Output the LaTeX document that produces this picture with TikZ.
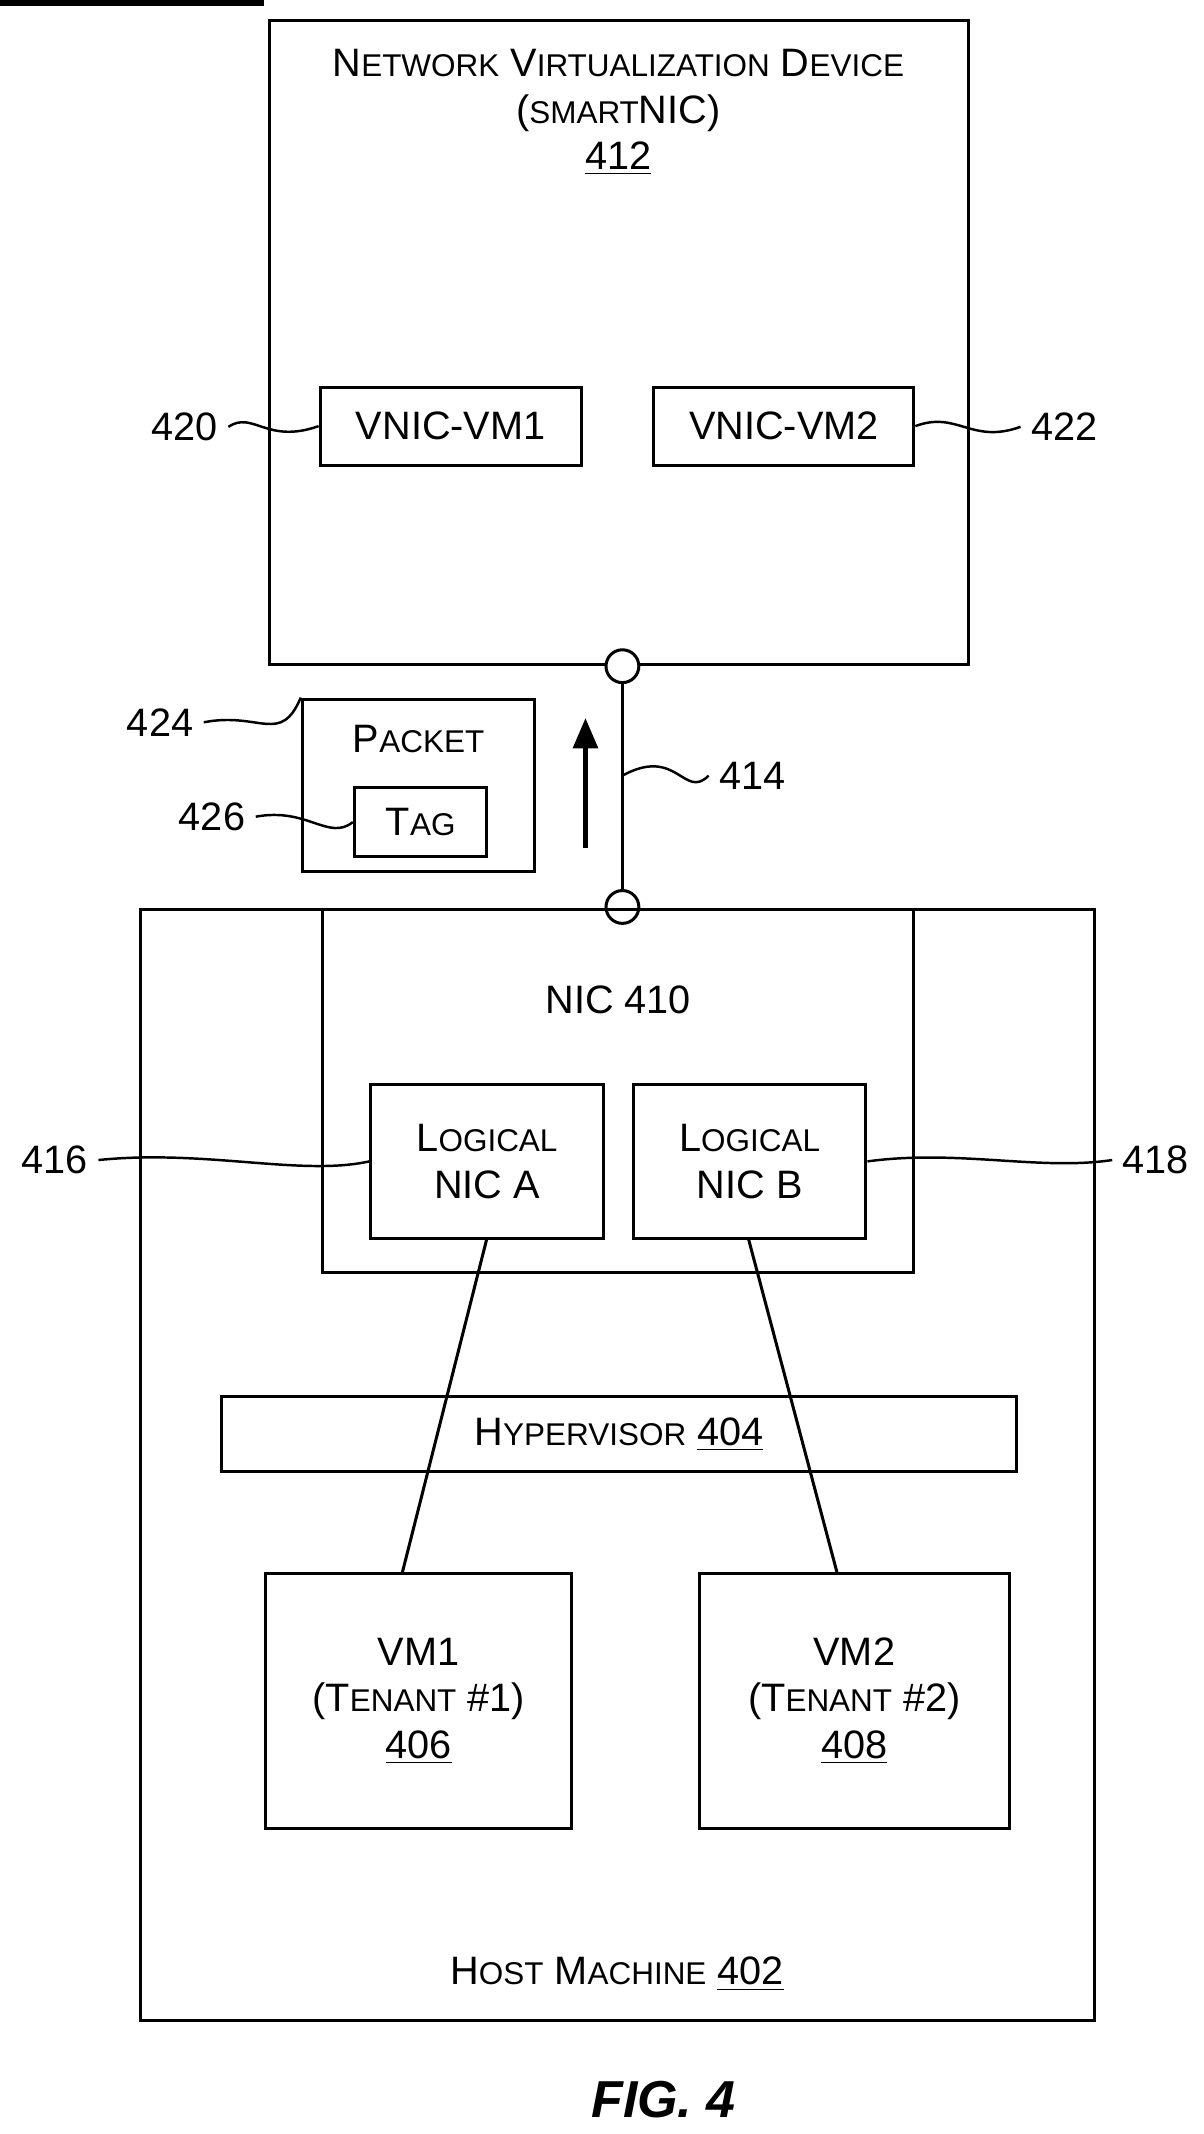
\documentclass[tikz,border=0pt]{standalone}
\usepackage{fontspec}
\setmainfont{Liberation Sans}
\usetikzlibrary{arrows.meta}
\newcommand\fsc[2]{#1{\fontsize{11.5}{13}\selectfont #2}}
\begin{document}
\begin{tikzpicture}[x=0.5pt,y=-0.5pt,line width=1.1pt,
  box/.style={draw,inner sep=0pt},
  txt/.style={font=\fontsize{14.5}{17}\selectfont,align=center},
  lead/.style={line width=0.9pt}]
\useasboundingbox (0,0) rectangle (880,1560);
% top device
\draw (197,15) rectangle (708,486);
\node[txt] (t412) at (452,82) {\fsc{N}{ETWORK} \fsc{V}{IRTUALIZATION} \fsc{D}{EVICE}\\({\fontsize{11.5}{13}\selectfont SMART}NIC)\\\underline{412}};
\node[box,txt,minimum width=191\pgflinewidth/1.1*0.5,anchor=north west] at (0,0) {};
\node[draw,txt,minimum width=95.5pt,minimum height=28.5pt] (v1) at (329.5,311.5) {VNIC-VM1};
\node[draw,txt,minimum width=95pt,minimum height=28.5pt] (v2) at (573,311.5) {VNIC-VM2};
\node[txt] (l420) at (135,312) {420};
\node[txt] (l422) at (778,312) {422};
\draw[lead] (l420.east) .. controls (185,300) and (195,325) .. (v1.west);
\draw[lead] (v2.east) .. controls (700,300) and (710,325) .. (l422.west);
% link
\node[draw,circle,minimum size=12pt,inner sep=0pt,fill=white] (c1) at (455,487) {};
\node[draw,circle,minimum size=12pt,inner sep=0pt,fill=white] (c2) at (455,663) {};
\draw (c1) -- (c2);
\coordinate (a1) at (428,620); \coordinate (a2) at (428,525);
\draw[-{Triangle[length=11pt,width=9pt]},line width=1.5pt] (a1) -- (a2);
\node[txt] (l414) at (550,567) {414};
\coordinate (m414) at (455,567);
\draw[lead] (m414) .. controls (495,545) and (500,585) .. (l414.west);
% packet
\node[draw,minimum width=85pt,minimum height=63pt] (pk) at (306,574) {};
\node[txt] at (306,540) {\fsc{P}{ACKET}};
\node[draw,txt,minimum width=48.5pt,minimum height=25pt] (tag) at (307.5,601) {\fsc{T}{AG}};
\node[txt] (l424) at (117,528) {424};
\node[txt] (l426) at (155,597) {426};
\draw[lead] (l424.east) .. controls (190,520) and (205,545) .. (pk.north west);
\draw[lead] (l426.east) .. controls (225,590) and (240,615) .. (tag.west);
% host
\draw (103,665) rectangle (800,1477);
\node[txt] at (451,1443) {\fsc{H}{OST} \fsc{M}{ACHINE} \underline{402}};
\draw (236,665) rectangle (668,930);
\node[txt] at (452,731) {NIC 410};
\node[draw,txt,minimum width=85pt,minimum height=56pt] (na) at (356,849) {\fsc{L}{OGICAL}\\NIC A};
\node[draw,txt,minimum width=85pt,minimum height=56pt] (nb) at (548,849) {\fsc{L}{OGICAL}\\NIC B};
\node[txt] (l416) at (40,848) {416};
\node[txt] (l418) at (845,848) {418};
\draw[lead] (l416.east) .. controls (150,840) and (220,860) .. (na.west);
\draw[lead] (nb.east) .. controls (700,840) and (760,856) .. (l418.west);
\node[draw,txt,minimum width=290.5pt,minimum height=27.5pt] (hv) at (452.5,1048.5) {\fsc{H}{YPERVISOR} \underline{404}};
\node[draw,txt,minimum width=112pt,minimum height=93.5pt] (vm1) at (306,1243.5) {VM1\\(\fsc{T}{ENANT} \#1)\\\underline{406}};
\node[draw,txt,minimum width=113.5pt,minimum height=93.5pt] (vm2) at (624.5,1243.5) {VM2\\(\fsc{T}{ENANT} \#2)\\\underline{408}};
\coordinate (na1) at (356,905); \coordinate (vm1t) at (294,1150);
\coordinate (nb1) at (547,905); \coordinate (vm2t) at (612,1150);
\draw (na1) -- (vm1t);
\draw (nb1) -- (vm2t);
\node[font=\fontsize{19}{22}\selectfont\bfseries\itshape] (fig) at (485,1535) {FIG. 4};
\end{tikzpicture}
\end{document}
